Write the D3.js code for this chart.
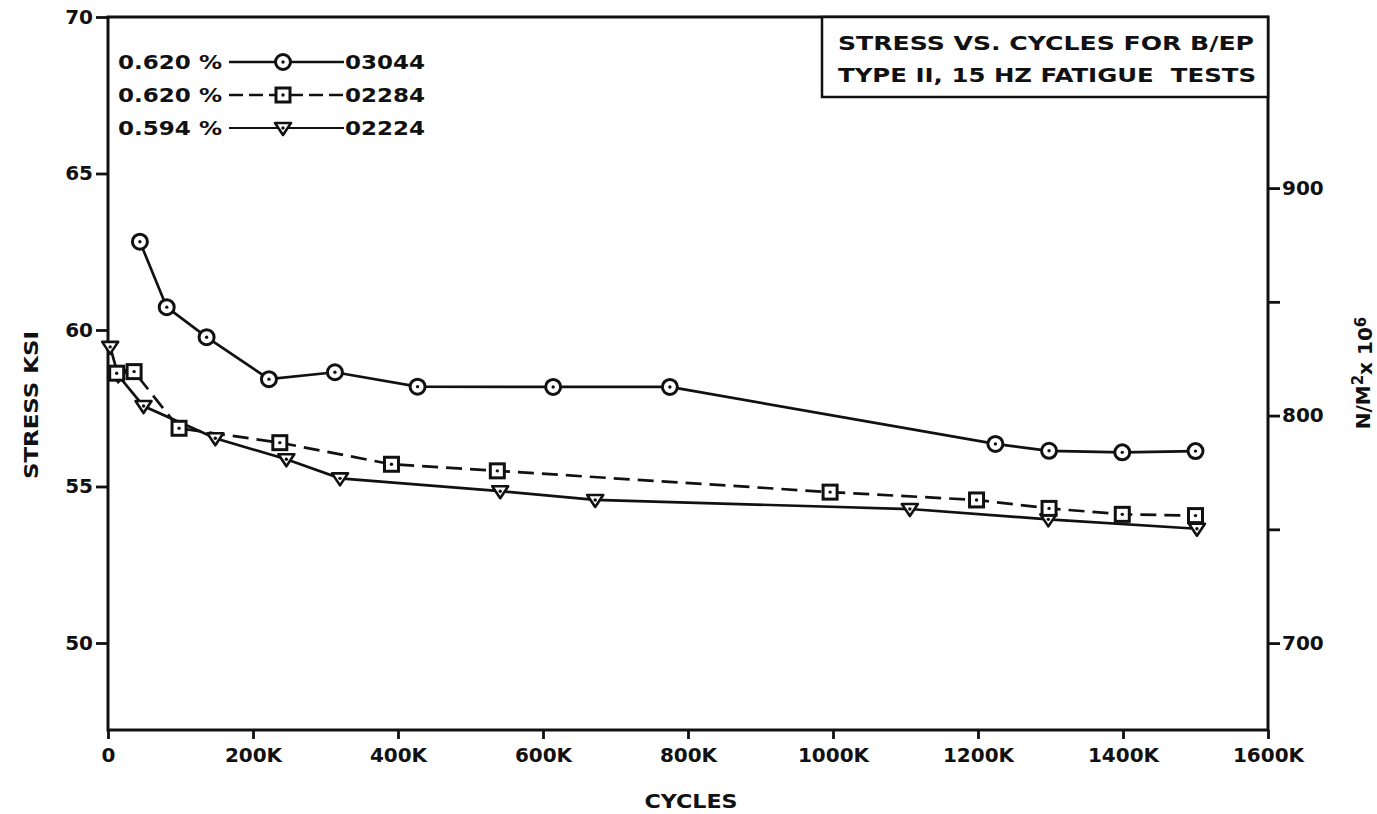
<!DOCTYPE html>
<html>
<head>
<meta charset="utf-8">
<script src="https://cdn.jsdelivr.net/npm/d3@7/dist/d3.min.js"></script>
<style>
  html, body { margin: 0; padding: 0; background: #fff; }
  svg text { font-family: "DejaVu Sans", "Liberation Sans", sans-serif; font-weight: bold; fill: #111; }
</style>
</head>
<body>
<svg id="chart" width="1377" height="814"></svg>
<script>
// Cycle counts (thousands) and stress (ksi) for each specimen
const cycles03044 = [44, 81, 136, 222, 313, 427, 614, 775, 1224, 1298, 1399, 1500];
const stress03044 = [62.82, 60.73, 59.77, 58.43, 58.65, 58.19, 58.18, 58.18, 56.36, 56.14, 56.09, 56.13];

const cycles02284 = [12, 36, 98, 237, 391, 537, 996, 1198, 1298, 1399, 1500];
const stress02284 = [58.62, 58.67, 56.86, 56.40, 55.71, 55.50, 54.82, 54.57, 54.30, 54.11, 54.07];

const cycles02224 = [3, 14, 49, 148, 246, 320, 541, 672, 1106, 1297, 1502];
const stress02224 = [59.46, 58.55, 57.57, 56.54, 55.87, 55.26, 54.85, 54.57, 54.28, 53.95, 53.65];

const legendStrain = ["0.620 %", "0.620 %", "0.594 %"];
const legendSpecimen = ["03044", "02284", "02224"];

const xTicks = [0, 200, 400, 600, 800, 1000, 1200, 1400, 1600];
const xTickLabels = ["0", "200K", "400K", "600K", "800K", "1000K", "1200K", "1400K", "1600K"];
const yTicks = [50, 55, 60, 65, 70];
const rightTicks = [700, 800, 900];
const rightMinorTicks = [750, 850];

const titleLines = ["STRESS VS. CYCLES FOR B/EP", "TYPE II, 15 HZ FATIGUE  TESTS"];

const svg = d3.select("#chart");
const plotL = 108, plotR = 1268, plotT = 17, plotB = 730;
const ink = "#111";

const x = d3.scaleLinear().domain([0, 1600]).range([plotL, plotR]);
const y = d3.scaleLinear().domain([47.22, 70]).range([plotB, plotT]);
const yR = d3.scaleLinear().domain([661.8, 975.2]).range([plotB, plotT]);

// frame
svg.append("rect").attr("x", plotL).attr("y", plotT).attr("width", plotR - plotL).attr("height", plotB - plotT)
  .attr("fill", "none").attr("stroke", ink).attr("stroke-width", 3);

// bottom axis
const xAxis = d3.axisBottom(x).tickValues(xTicks).tickSize(9).tickPadding(6)
  .tickFormat((d, i) => xTickLabels[i]);
const gx = svg.append("g").attr("transform", `translate(0,${plotB})`).call(xAxis);
gx.select(".domain").remove();
gx.selectAll("line").attr("stroke", ink).attr("stroke-width", 2.8);
gx.selectAll("text").style("font-size", "20px").attr("dy", "0.85em");

// left axis
const yAxis = d3.axisLeft(y).tickValues(yTicks).tickSize(12).tickPadding(3);
const gy = svg.append("g").attr("transform", `translate(${plotL},0)`).call(yAxis);
gy.select(".domain").remove();
gy.selectAll("line").attr("stroke", ink).attr("stroke-width", 2.8);
gy.selectAll("text").style("font-size", "20px");

// right axis
const rAxis = d3.axisRight(yR).tickValues(rightTicks).tickSize(12).tickPadding(2);
const gr = svg.append("g").attr("transform", `translate(${plotR},0)`).call(rAxis);
gr.select(".domain").remove();
gr.selectAll("line").attr("stroke", ink).attr("stroke-width", 2.8);
gr.selectAll("text").style("font-size", "20px");
const gr2 = svg.append("g").attr("transform", `translate(${plotR},0)`)
  .call(d3.axisRight(yR).tickValues(rightMinorTicks).tickSize(12).tickFormat(""));
gr2.select(".domain").remove();
gr2.selectAll("line").attr("stroke", ink).attr("stroke-width", 2.8);

// axis titles
svg.append("text").attr("x", 691).attr("y", 808).attr("text-anchor", "middle")
  .style("font-size", "20px").attr("textLength", 93).attr("lengthAdjust", "spacingAndGlyphs").text("CYCLES");
svg.append("text").attr("transform", "translate(38,405) rotate(-90)").attr("text-anchor", "middle")
  .style("font-size", "20px").attr("textLength", 148).attr("lengthAdjust", "spacingAndGlyphs").text("STRESS KSI");
const rt = svg.append("text").attr("transform", "translate(1370,373) rotate(-90)").attr("text-anchor", "middle")
  .style("font-size", "20px");
rt.append("tspan").text("N/M");
rt.append("tspan").attr("dy", "-0.45em").style("font-size", "15px").text("2");
rt.append("tspan").attr("dy", "0.45em").text("x 10");
rt.append("tspan").attr("dy", "-0.45em").style("font-size", "15px").text("6");

// title box
svg.append("rect").attr("x", 822).attr("y", plotT).attr("width", plotR - 822).attr("height", 80)
  .attr("fill", "#fff").attr("stroke", ink).attr("stroke-width", 2.5);
titleLines.forEach((t, i) => {
  svg.append("text").attr("x", 838).attr("y", 50 + i * 32).style("font-size", "20px")
    .attr("textLength", i === 0 ? 416 : 418).attr("lengthAdjust", "spacingAndGlyphs")
    .attr("xml:space", "preserve").text(t);
});

// markers
function drawMarker(g, kind, cx, cy) {
  if (kind === "circle") {
    g.append("circle").attr("cx", cx).attr("cy", cy).attr("r", 7.5)
      .attr("fill", "#fff").attr("stroke", ink).attr("stroke-width", 3);
  } else if (kind === "square") {
    g.append("rect").attr("x", cx - 7).attr("y", cy - 7).attr("width", 14).attr("height", 14)
      .attr("fill", "#fff").attr("stroke", ink).attr("stroke-width", 3);
  } else {
    g.append("path").attr("d", `M${cx - 8},${cy - 5}L${cx + 8},${cy - 5}L${cx},${cy + 7}Z`)
      .attr("fill", "#fff").attr("stroke", ink).attr("stroke-width", 2.6).attr("stroke-linejoin", "round");
  }
  g.append("circle").attr("cx", cx).attr("cy", cy).attr("r", 1.7).attr("fill", ink);
}

const series = [
  { xs: cycles03044, ys: stress03044, marker: "circle", dash: null },
  { xs: cycles02284, ys: stress02284, marker: "square", dash: "16,8" },
  { xs: cycles02224, ys: stress02224, marker: "triangle", dash: null }
];

const line = d3.line().x(d => x(d[0])).y(d => y(d[1]));
const linesG = svg.append("g");
const marksG = svg.append("g");
series.forEach(s => {
  const pts = s.xs.map((c, i) => [c, s.ys[i]]);
  linesG.append("path").attr("d", line(pts)).attr("fill", "none").attr("stroke", ink)
    .attr("stroke-width", 2.7).attr("stroke-dasharray", s.dash);
});
[2, 1, 0].forEach(k => {
  const s = series[k];
  s.xs.forEach((c, i) => drawMarker(marksG, s.marker, x(c), y(s.ys[i])));
});

// legend
const legend = svg.append("g");
series.forEach((s, i) => {
  const ly = 62 + i * 33;
  legend.append("text").attr("x", 118).attr("y", ly + 7).style("font-size", "20px")
    .attr("textLength", 104).attr("lengthAdjust", "spacingAndGlyphs")
    .attr("xml:space", "preserve").text(legendStrain[i]);
  legend.append("line").attr("x1", 229).attr("x2", 344).attr("y1", ly).attr("y2", ly)
    .attr("stroke", ink).attr("stroke-width", i === 2 ? 1.8 : 2.4)
    .attr("stroke-dasharray", s.dash ? "14,6" : null);
  drawMarker(legend, s.marker, 283, ly);
  legend.append("text").attr("x", 345).attr("y", ly + 7).style("font-size", "20px")
    .attr("textLength", 80).attr("lengthAdjust", "spacingAndGlyphs").text(legendSpecimen[i]);
});
</script>
</body>
</html>
